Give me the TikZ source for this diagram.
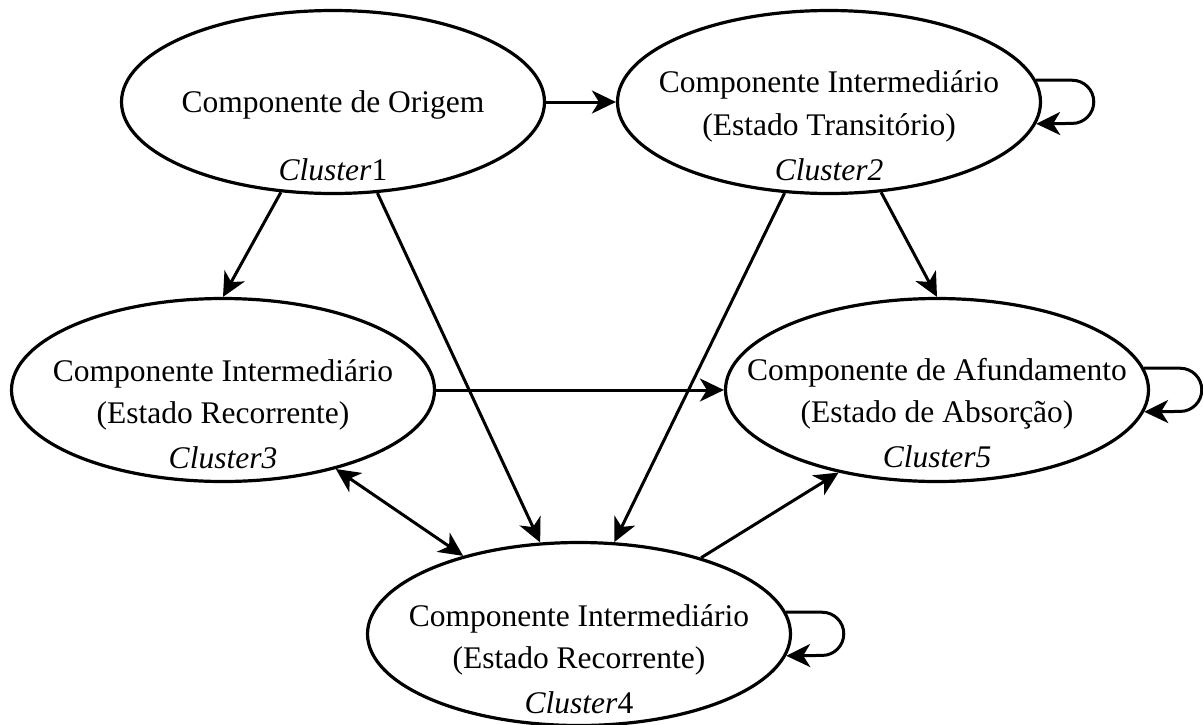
\documentclass[tikz,border=0pt]{standalone}
\usepackage{fontspec}
\setmainfont{Liberation Serif}
\usetikzlibrary{shapes.geometric,arrows.meta}
\begin{document}
\begin{tikzpicture}[x=1pt,y=-1pt,
  state/.style={ellipse,draw,line width=3.2pt,minimum width=423pt,minimum height=183pt,inner sep=0pt},
  lbl/.style={anchor=base,inner sep=0pt,font=\fontsize{31.5}{38}\selectfont},
  link/.style={line width=3pt,-{Stealth[length=24pt,width=23pt,inset=7pt]}},
  twoway/.style={line width=3pt,{Stealth[length=24pt,width=23pt,inset=7pt]}-{Stealth[length=24pt,width=23pt,inset=7pt]}},
]
\useasboundingbox (0,0) rectangle (1203,724);

% states
\node[state] (c1) at (333,102) {};
\node[state] (c2) at (829,102) {};
\node[state] (c3) at (223,390) {};
\node[state] (c5) at (937,390) {};
\node[state] (c4) at (579,634) {};

% labels
\node[lbl] (t1a) at (333,112) {Componente de Origem};
\node[lbl] (t1c) at (333,180) {\textit{Cluster}1};

\node[lbl] (t2a) at (829,92) {Componente Intermediário};
\node[lbl] (t2b) at (829,135) {(Estado Transitório)};
\node[lbl] (t2c) at (829,180) {\textit{Cluster2}};

\node[lbl] (t3a) at (223,381) {Componente Intermediário};
\node[lbl] (t3b) at (223,423) {(Estado Recorrente)};
\node[lbl] (t3c) at (223,468) {\textit{Cluster3}};

\node[lbl] (t5a) at (937,380) {Componente de Afundamento};
\node[lbl] (t5b) at (937,422) {(Estado de Absorção)};
\node[lbl] (t5c) at (937,467) {\textit{Cluster5}};

\node[lbl] (t4a) at (579,626) {Componente Intermediário};
\node[lbl] (t4b) at (579,668) {(Estado Recorrente)};
\node[lbl] (t4c) at (579,713) {\textit{Cluster}4};

% transitions
\draw[link] (c1.east) -- (c2.west);
\draw[link] (c1.-120) -- (c3.north);
\draw[link] (c1.-64) -- (c4.113.6);
\draw[link] (c2.-116.3) -- (c4.69.8);
\draw[link] (c2.-60.2) -- (c5.north);
\draw[link] (c3.east) -- (c5.west);
\draw[twoway] (c3.-35) -- (c4.146.3);
\draw[link] (c4.32.6) -- (c5.-140.6);

% self loops
\draw[link] (c2.6) -- ++(36,0) arc[start angle=-90,end angle=90,radius=21.6] -- (c2.-6);
\draw[link] (c5.6) -- ++(36,0) arc[start angle=-90,end angle=90,radius=21.6] -- (c5.-6);
\draw[link] (c4.6) -- ++(36,0) arc[start angle=-90,end angle=90,radius=21.6] -- (c4.-6);
\end{tikzpicture}
\end{document}
